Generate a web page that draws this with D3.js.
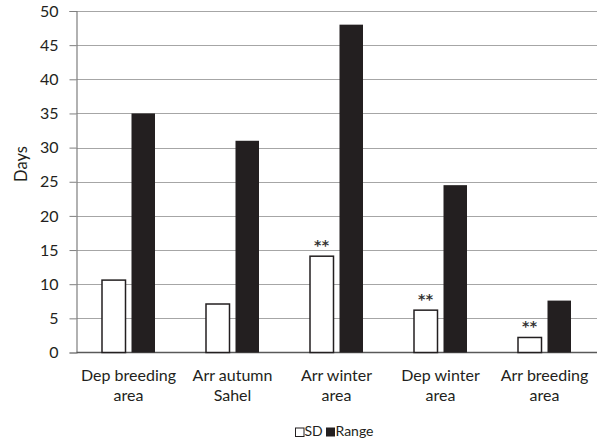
<!DOCTYPE html>
<html>
<head>
<meta charset="utf-8">
<script src="https://cdn.jsdelivr.net/npm/d3@7/dist/d3.min.js"></script>
<style>
  html, body { margin: 0; padding: 0; background: #fff; }
  svg { display: block; font-family: Lato, "Open Sans", sans-serif; }
</style>
</head>
<body>
<svg id="chart" width="597" height="443"></svg>
<script>
// Timing variability per migration event (days)
const categories = [
  ["Dep breeding", "area"],
  ["Arr autumn", "Sahel"],
  ["Arr winter", "area"],
  ["Dep winter", "area"],
  ["Arr breeding", "area"]
];
const sdValues = [10.6, 7.1, 14.1, 6.2, 2.2];
const rangeValues = [35, 31, 48, 24.5, 7.6];
const significance = ["", "", "**", "**", "**"];
const seriesNames = ["SD", "Range"];
const yTicks = [0, 5, 10, 15, 20, 25, 30, 35, 40, 45, 50];

const svg = d3.select("#chart");
const margin = { left: 76.5, right: 0.5, top: 11, bottom: 90.5 };
const W = 597, H = 443;

const x = d3.scaleBand()
  .domain(categories.map((d, i) => i))
  .range([margin.left, W - margin.right])
  .paddingInner(0).paddingOuter(0);

const y = d3.scaleLinear().domain([0, 50]).range([H - margin.bottom, margin.top]);

// horizontal gridlines
svg.append("g")
  .selectAll("line")
  .data(yTicks.filter(t => t > 0))
  .join("line")
  .attr("x1", margin.left).attr("x2", W)
  .attr("y1", d => Math.round(y(d)) + 0.5).attr("y2", d => Math.round(y(d)) + 0.5)
  .attr("stroke", "#a6a6a6").attr("stroke-width", 1);

// y axis
const yAxis = svg.append("g")
  .attr("transform", `translate(${margin.left},0)`)
  .call(d3.axisLeft(y).tickValues(yTicks).tickSize(7).tickPadding(11));
yAxis.select(".domain").attr("stroke", "#7f7f7f").attr("stroke-width", 1.2);
yAxis.selectAll(".tick line").attr("stroke", "#7f7f7f");
yAxis.selectAll(".tick text")
  .attr("font-size", 16).attr("fill", "#231f20")
  .attr("font-family", "Lato, 'Open Sans', sans-serif");

// x axis baseline
svg.append("line")
  .attr("x1", margin.left).attr("x2", W)
  .attr("y1", y(0)).attr("y2", y(0))
  .attr("stroke", "#595959").attr("stroke-width", 1.5);

const barW = 23.5, gap = 6;

// SD bars (open)
svg.append("g").selectAll("rect")
  .data(sdValues)
  .join("rect")
  .attr("x", (d, i) => x(i) + x.bandwidth() / 2 - gap / 2 - barW)
  .attr("y", d => y(d))
  .attr("width", barW)
  .attr("height", d => y(0) - y(d))
  .attr("fill", "#fff").attr("stroke", "#231f20").attr("stroke-width", 1.5);

// Range bars (filled)
svg.append("g").selectAll("rect")
  .data(rangeValues)
  .join("rect")
  .attr("x", (d, i) => x(i) + x.bandwidth() / 2 + gap / 2)
  .attr("y", d => y(d))
  .attr("width", barW)
  .attr("height", d => y(0) - y(d))
  .attr("fill", "#231f20");

// significance markers above SD bars
svg.append("g").selectAll("text")
  .data(sdValues)
  .join("text")
  .attr("x", (d, i) => x(i) + x.bandwidth() / 2 - gap / 2 - barW / 2)
  .attr("y", d => y(d) - 6.5)
  .attr("text-anchor", "middle")
  .attr("font-family", "'DejaVu Sans', sans-serif")
  .attr("font-size", 14).attr("font-weight", "bold").attr("fill", "#333")
  .attr("letter-spacing", 0.5)
  .text((d, i) => significance[i]);

// category labels
const labels = svg.append("g").selectAll("text")
  .data(categories)
  .join("text")
  .attr("text-anchor", "middle")
  .attr("font-size", 16).attr("fill", "#231f20")
  .attr("transform", (d, i) => `translate(${x(i) + x.bandwidth() / 2},${y(0) + 28})`);
labels.selectAll("tspan")
  .data(d => d)
  .join("tspan")
  .attr("x", 0)
  .attr("dy", (d, j) => j === 0 ? 0 : 20)
  .text(d => d);

// y axis title
svg.append("text")
  .attr("transform", "translate(27,164) rotate(-90)")
  .attr("text-anchor", "middle")
  .attr("font-size", 16.5).attr("fill", "#231f20")
  .text("Days");

// legend
const legend = svg.append("g").attr("transform", "translate(295,436)");
const swatch = 8.5;
legend.append("rect").attr("x", 0.5).attr("y", -swatch + 0.5).attr("width", swatch).attr("height", swatch)
  .attr("fill", "#fff").attr("stroke", "#231f20").attr("stroke-width", 1);
legend.append("text").attr("x", 9.5).attr("y", 0).attr("font-size", 14).attr("fill", "#231f20").text(seriesNames[0]);
legend.append("rect").attr("x", 31).attr("y", -swatch).attr("width", swatch + 0.5).attr("height", swatch + 0.5)
  .attr("fill", "#231f20");
legend.append("text").attr("x", 40.5).attr("y", 0).attr("font-size", 14).attr("fill", "#231f20").text(seriesNames[1]);
</script>
</body>
</html>
